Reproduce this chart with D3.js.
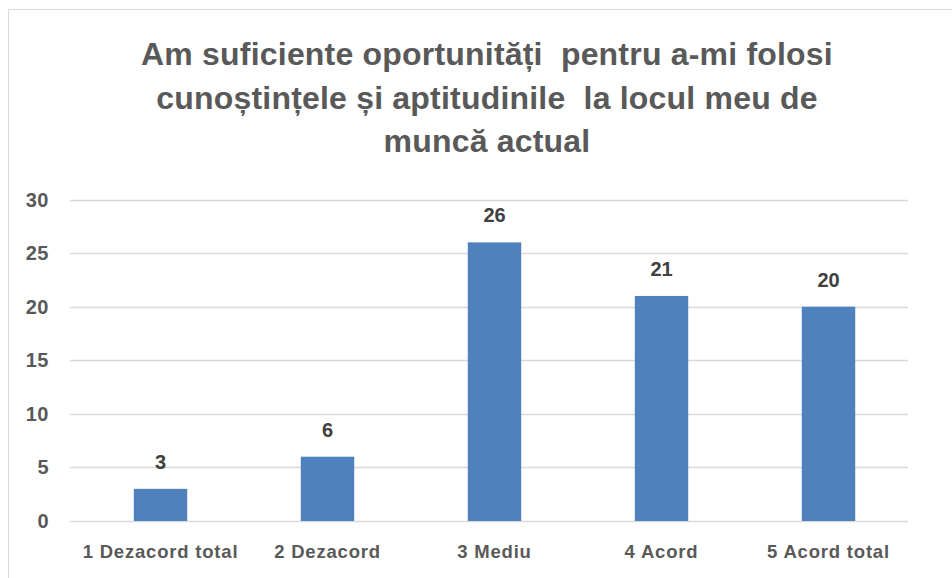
<!DOCTYPE html>
<html>
<head>
<meta charset="utf-8">
<script src="https://cdn.jsdelivr.net/npm/d3@7"></script>
<style>
  body { margin: 0; background: white; }
  svg { display: block; font-family: "Liberation Sans", Arial, sans-serif; }
</style>
</head>
<body>
<svg id="chart" width="952" height="578"></svg>
<script>
const categories = ["1 Dezacord total", "2 Dezacord", "3 Mediu", "4 Acord", "5 Acord total"];
const values = [3, 6, 26, 21, 20];
const yTicks = [0, 5, 10, 15, 20, 25, 30];
const titleLines = [
  "Am suficiente oportunități  pentru a-mi folosi",
  "cunoștințele și aptitudinile  la locul meu de",
  "muncă actual"
];

const svg = d3.select("#chart");

// chart frame
svg.append("rect")
  .attr("x", 8.5).attr("y", 9.5)
  .attr("width", 960).attr("height", 600)
  .attr("fill", "white")
  .attr("stroke", "#d9d9d9");

// title
svg.append("g")
  .selectAll("text")
  .data(titleLines)
  .enter()
  .append("text")
  .attr("x", 487)
  .attr("y", (d, i) => 65 + i * 43.5)
  .attr("text-anchor", "middle")
  .attr("font-size", "32px")
  .attr("font-weight", "bold")
  .attr("letter-spacing", "0.2px")
  .attr("fill", "#595959")
  .style("white-space", "pre")
  .text((d) => d);

const x = d3.scaleBand().domain(categories).range([77, 912]).paddingInner(0.68).paddingOuter(0.34);
const y = d3.scaleLinear().domain([0, 30]).range([521, 199.5]);

// gridlines
svg.append("g")
  .selectAll("line")
  .data(yTicks)
  .enter()
  .append("line")
  .attr("x1", 70).attr("x2", 908)
  .attr("y1", (d) => Math.round(y(d)) + 0.5)
  .attr("y2", (d) => Math.round(y(d)) + 0.5)
  .attr("stroke", "#d9d9d9")
  .attr("stroke-width", 1.5);

// y tick labels
svg.append("g")
  .selectAll("text")
  .data(yTicks)
  .enter()
  .append("text")
  .attr("x", 49)
  .attr("y", (d) => y(d) + 7)
  .attr("text-anchor", "end")
  .attr("font-size", "20px")
  .attr("font-weight", "bold")
  .attr("letter-spacing", "0.5px")
  .attr("fill", "#595959")
  .text((d) => d);

// bars
svg.append("g")
  .selectAll("rect")
  .data(values)
  .enter()
  .append("rect")
  .attr("x", (d, i) => x(categories[i]))
  .attr("y", (d) => y(d))
  .attr("width", x.bandwidth())
  .attr("height", (d) => y(0) - y(d))
  .attr("fill", "#4f81bd");

// data labels
svg.append("g")
  .selectAll("text")
  .data(values)
  .enter()
  .append("text")
  .attr("x", (d, i) => x(categories[i]) + x.bandwidth() / 2)
  .attr("y", (d) => y(d) - 20)
  .attr("text-anchor", "middle")
  .attr("font-size", "20px")
  .attr("font-weight", "bold")
  .attr("fill", "#404040")
  .text((d) => d);

// category labels
svg.append("g")
  .selectAll("text")
  .data(categories)
  .enter()
  .append("text")
  .attr("x", (d) => x(d) + x.bandwidth() / 2)
  .attr("y", 558)
  .attr("text-anchor", "middle")
  .attr("font-size", "18.5px")
  .attr("font-weight", "bold")
  .attr("letter-spacing", "0.8px")
  .attr("fill", "#595959")
  .text((d) => d);
</script>
</body>
</html>
